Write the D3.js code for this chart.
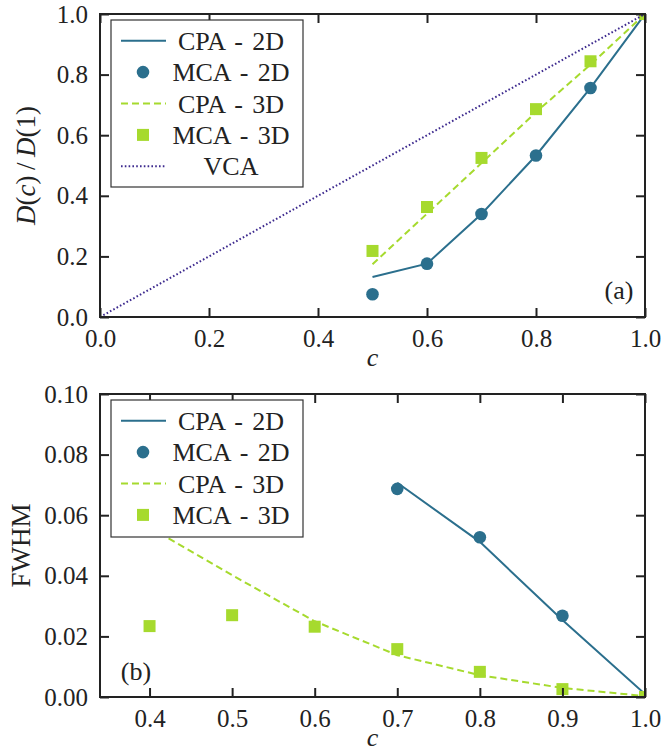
<!DOCTYPE html>
<html>
<head>
<meta charset="utf-8">
<script src="https://cdn.jsdelivr.net/npm/d3@7"></script>
<style>
  html, body { margin: 0; padding: 0; background: #fff; }
  svg text { font-family: "Liberation Serif", "DejaVu Serif", serif; fill: #222; }
</style>
</head>
<body>
<div id="chart"></div>
<script>
// ---- data: panel (a), normalized D(c)/D(1) ----
const cA = [0.5, 0.6, 0.7, 0.8, 0.9, 1.0];
const cpa2dA = [0.132, 0.176, 0.340, 0.533, 0.756, 1.0];
const mca2dA = [0.075, 0.176, 0.340, 0.533, 0.756, 1.0];
const cpa3dA = [0.174, 0.341, 0.508, 0.676, 0.833, 1.0];
const mca3dA = [0.218, 0.363, 0.525, 0.686, 0.844, 1.0];
const cVCA = [0.0, 1.0];
const vca = [0.0, 1.0];

// ---- data: panel (b), FWHM ----
const c2dB = [0.7, 0.8, 0.9, 1.0];
const cpa2dB = [0.0707, 0.0512, 0.0254, 0.001];
const cMca2dB = [0.7, 0.8, 0.9];
const mca2dB = [0.0687, 0.0527, 0.0268];
const c3dB = [0.4, 0.5, 0.6, 0.7, 0.8, 0.9, 1.0];
const cpa3dB = [0.056, 0.0402, 0.025, 0.0138, 0.0072, 0.003, 0.0003];
const mca3dB = [0.0234, 0.0270, 0.0232, 0.0158, 0.0083, 0.0026, 0.0];

// ---- tick labels ----
const ticksXA = [0.0, 0.2, 0.4, 0.6, 0.8, 1.0];
const ticksYA = [0.0, 0.2, 0.4, 0.6, 0.8, 1.0];
const ticksXB = [0.4, 0.5, 0.6, 0.7, 0.8, 0.9, 1.0];
const ticksYB = [0.00, 0.02, 0.04, 0.06, 0.08, 0.10];

const COL_2D = "#2b6f8d";
const COL_3D = "#a6da2e";
const COL_VCA = "#3d2a8e";
const FONT = '"Liberation Serif", "DejaVu Serif", serif';

const W = 663, H = 755;
const svg = d3.select("#chart").append("svg")
  .attr("width", W).attr("height", H);

const zip = (xs, ys) => xs.map((x, i) => [x, ys[i]]);

function panel(opt) {
  const x = d3.scaleLinear().domain(opt.xDomain).range([opt.left, opt.right]);
  const y = d3.scaleLinear().domain(opt.yDomain).range([opt.bottom, opt.top]);
  const g = svg.append("g");
  const clipId = "clip-" + opt.name;
  svg.append("clipPath").attr("id", clipId).append("rect")
    .attr("x", opt.left).attr("y", opt.top)
    .attr("width", opt.right - opt.left).attr("height", opt.bottom - opt.top);

  const plot = g.append("g").attr("clip-path", `url(#${clipId})`);
  const line = d3.line().x(d => x(d[0])).y(d => y(d[1]));

  opt.series.forEach(s => {
    const pts = zip(s.x, s.y);
    if (s.type === "line") {
      plot.append("path").datum(pts)
        .attr("d", line).attr("fill", "none")
        .attr("stroke", s.color).attr("stroke-width", s.width || 2)
        .attr("stroke-dasharray", s.dash || null);
    } else if (s.type === "circle") {
      plot.selectAll(null).data(pts).enter().append("circle")
        .attr("cx", d => x(d[0])).attr("cy", d => y(d[1]))
        .attr("r", 6.3).attr("fill", s.color);
    } else if (s.type === "square") {
      plot.selectAll(null).data(pts).enter().append("rect")
        .attr("x", d => x(d[0]) - 6).attr("y", d => y(d[1]) - 6)
        .attr("width", 12).attr("height", 12).attr("fill", s.color);
    }
  });

  // axes with inward ticks on all four sides
  const tickLen = 9;
  const axB = d3.axisBottom(x).tickValues(opt.xTicks).tickSize(-tickLen).tickPadding(12)
    .tickFormat(d3.format(opt.xFmt));
  const axT = d3.axisTop(x).tickValues(opt.xTicks).tickSize(-tickLen).tickFormat("");
  const axL = d3.axisLeft(y).tickValues(opt.yTicks).tickSize(-tickLen).tickPadding(12)
    .tickFormat(d3.format(opt.yFmt));
  const axR = d3.axisRight(y).tickValues(opt.yTicks).tickSize(-tickLen).tickFormat("");

  const styleAxis = sel => {
    sel.attr("font-family", FONT).attr("font-size", 25);
    sel.select(".domain").remove();
    sel.selectAll(".tick line").attr("stroke", "#222").attr("stroke-width", 2);
    sel.selectAll(".tick text").style("font-size", "25px")
      .style("font-family", FONT).attr("fill", "#222");
  };
  g.append("g").attr("transform", `translate(0,${opt.bottom})`).call(axB).call(styleAxis);
  g.append("g").attr("transform", `translate(0,${opt.top})`).call(axT).call(styleAxis);
  g.append("g").attr("transform", `translate(${opt.left},0)`).call(axL).call(styleAxis);
  g.append("g").attr("transform", `translate(${opt.right},0)`).call(axR).call(styleAxis);

  // frame
  g.append("rect").attr("x", opt.left).attr("y", opt.top)
    .attr("width", opt.right - opt.left).attr("height", opt.bottom - opt.top)
    .attr("fill", "none").attr("stroke", "#222").attr("stroke-width", 2);

  // axis titles
  g.append("text").attr("x", (opt.left + opt.right) / 2).attr("y", opt.bottom + 49)
    .attr("text-anchor", "middle").style("font-size", "26px").style("font-style", "italic")
    .text("c");
  const yl = g.append("text")
    .attr("transform", `translate(${opt.ylabelX},${(opt.top + opt.bottom) / 2}) rotate(-90)`)
    .attr("text-anchor", "middle").style("font-size", "27px");
  opt.ylabel(yl);

  // panel tag
  g.append("text").attr("x", opt.tagX).attr("y", opt.tagY)
    .attr("text-anchor", "middle").style("font-size", "26px").text(opt.tag);

  // legend
  const lg = g.append("g");
  lg.append("rect").attr("x", opt.legend.x).attr("y", opt.legend.y)
    .attr("width", opt.legend.w).attr("height", opt.legend.h)
    .attr("fill", "#fff").attr("stroke", "#333").attr("stroke-width", 1.2);
  opt.legend.items.forEach((it, i) => {
    const cy = opt.legend.y + 20.7 + i * 31.4;
    const hx0 = opt.legend.x + 10, hx1 = opt.legend.x + 55, hxm = opt.legend.x + 32;
    if (it.type === "line") {
      lg.append("line").attr("x1", hx0).attr("x2", hx1).attr("y1", cy).attr("y2", cy)
        .attr("stroke", it.color).attr("stroke-width", it.width || 2)
        .attr("stroke-dasharray", it.dash || null);
    } else if (it.type === "circle") {
      lg.append("circle").attr("cx", hxm).attr("cy", cy).attr("r", 6.3).attr("fill", it.color);
    } else {
      lg.append("rect").attr("x", hxm - 6).attr("y", cy - 6).attr("width", 12).attr("height", 12)
        .attr("fill", it.color);
    }
    lg.append("text").attr("x", opt.legend.x + 120).attr("y", cy)
      .attr("dy", "0.35em").attr("text-anchor", "middle")
      .style("font-size", "26px").style("word-spacing", "3px").text(it.label);
  });
}

const legend2D3D = [
  { type: "line", color: COL_2D, label: "CPA - 2D" },
  { type: "circle", color: COL_2D, label: "MCA - 2D" },
  { type: "line", color: COL_3D, dash: "7,4", label: "CPA - 3D" },
  { type: "square", color: COL_3D, label: "MCA - 3D" }
];

panel({
  name: "a", left: 100, right: 645, top: 14, bottom: 317,
  xDomain: [0, 1], yDomain: [0, 1],
  xTicks: ticksXA, yTicks: ticksYA, xFmt: ".1f", yFmt: ".1f",
  series: [
    { type: "line", x: cA, y: cpa2dA, color: COL_2D },
    { type: "circle", x: cA, y: mca2dA, color: COL_2D },
    { type: "line", x: cA, y: cpa3dA, color: COL_3D, dash: "7,4" },
    { type: "square", x: cA, y: mca3dA, color: COL_3D },
    { type: "line", x: cVCA, y: vca, color: COL_VCA, dash: "1.6,2.2", width: 2 }
  ],
  ylabelX: 35,
  ylabel: t => {
    t.append("tspan").style("font-style", "italic").text("D");
    t.append("tspan").text("(");
    t.append("tspan").style("font-style", "italic").text("c");
    t.append("tspan").text(")\u2009/\u2009");
    t.append("tspan").style("font-style", "italic").text("D");
    t.append("tspan").text("(1)");
  },
  tag: "(a)", tagX: 619, tagY: 299,
  legend: {
    x: 111, y: 20, w: 192, h: 167,
    items: legend2D3D.concat([{ type: "line", color: COL_VCA, dash: "1.6,2.2", label: "VCA" }])
  }
});

panel({
  name: "b", left: 100, right: 645, top: 394, bottom: 697,
  xDomain: [0.34, 1.0], yDomain: [0, 0.1],
  xTicks: ticksXB, yTicks: ticksYB, xFmt: ".1f", yFmt: ".2f",
  series: [
    { type: "line", x: c2dB, y: cpa2dB, color: COL_2D },
    { type: "circle", x: cMca2dB, y: mca2dB, color: COL_2D },
    { type: "line", x: c3dB, y: cpa3dB, color: COL_3D, dash: "7,4" },
    { type: "square", x: c3dB, y: mca3dB, color: COL_3D }
  ],
  ylabelX: 30,
  ylabel: t => t.text("FWHM"),
  tag: "(b)", tagX: 136, tagY: 680,
  legend: { x: 111, y: 400, w: 192, h: 137, items: legend2D3D }
});
</script>
</body>
</html>
